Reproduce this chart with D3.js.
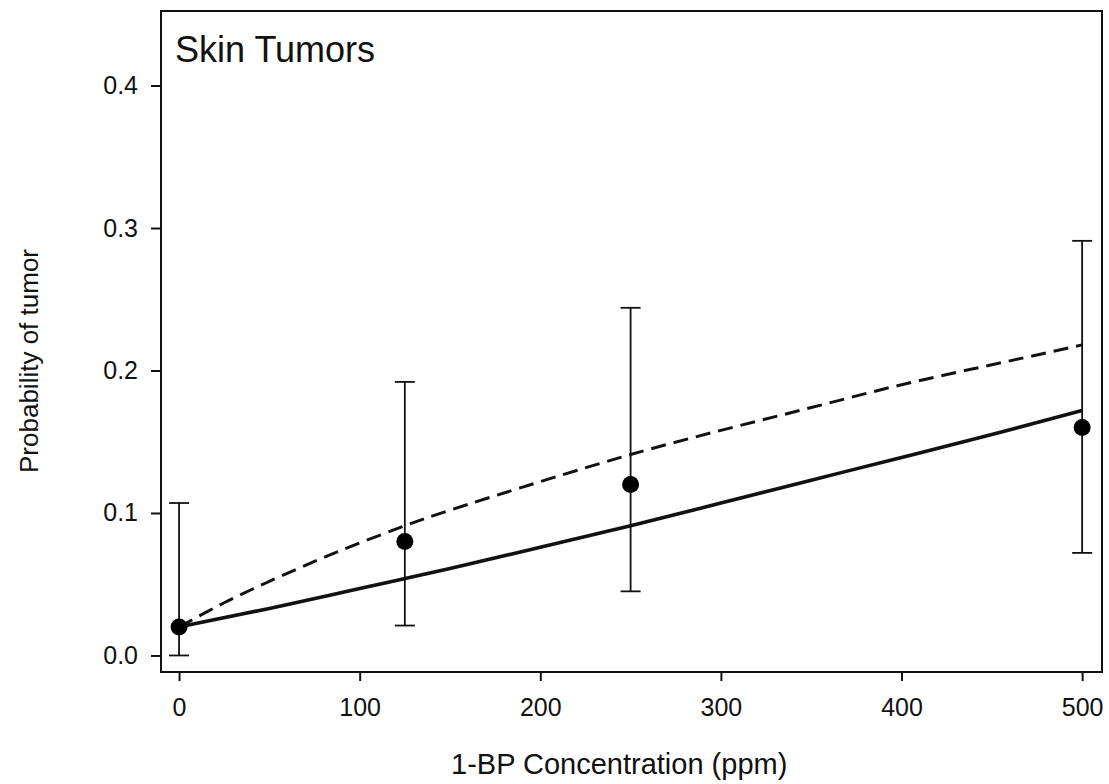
<!DOCTYPE html>
<html>
<head>
<meta charset="utf-8">
<script src="https://cdn.jsdelivr.net/npm/d3@7"></script>
<style>
  html, body { margin: 0; padding: 0; background: #fff; }
  svg { display: block; font-family: "Liberation Sans", Arial, sans-serif; }
</style>
</head>
<body>
<svg id="chart" width="1109" height="784"></svg>
<script>
// ---- data ----
const doses = [0, 125, 250, 500];
const observed = [0.020, 0.080, 0.120, 0.160];
const ciLower = [0.000, 0.021, 0.045, 0.072];
const ciUpper = [0.107, 0.192, 0.244, 0.291];

const solidX = [0, 50, 100, 150, 200, 250, 300, 350, 400, 450, 500];
const solidY = [0.020, 0.033, 0.047, 0.061, 0.076, 0.091, 0.107, 0.123, 0.139, 0.155, 0.172];

const dashedX = [0, 25, 50, 75, 100, 125, 150, 200, 250, 300, 350, 400, 450, 500];
const dashedY = [0.020, 0.037, 0.052, 0.066, 0.079, 0.091, 0.102, 0.122, 0.141, 0.158, 0.174, 0.190, 0.204, 0.218];

const xTicks = [0, 100, 200, 300, 400, 500];
const yTicks = [0.0, 0.1, 0.2, 0.3, 0.4];

const panelTitle = "Skin Tumors";
const xTitle = "1-BP Concentration (ppm)";
const yTitle = "Probability of tumor";

// ---- layout ----
const svg = d3.select("#chart");
const L = 161, R = 1102, T = 11, B = 672;

const x = d3.scaleLinear().domain([-10, 511]).range([L, R]);
const y = d3.scaleLinear().domain([-0.0116, 0.4523]).range([B, T]);

// frame
svg.append("rect")
  .attr("x", L).attr("y", T).attr("width", R - L).attr("height", B - T)
  .attr("fill", "none").attr("stroke", "#111").attr("stroke-width", 2);

// x axis
const xAxis = svg.append("g").attr("transform", `translate(0,${B})`)
  .call(d3.axisBottom(x).tickValues(xTicks).tickFormat(d3.format("d")).tickSize(9).tickPadding(17));
xAxis.select(".domain").remove();
xAxis.selectAll("line").attr("stroke", "#111").attr("stroke-width", 2);
xAxis.selectAll("text").attr("font-size", 25).attr("fill", "#111")
  .attr("font-family", "Liberation Sans, Arial, sans-serif");

// y axis
const yAxis = svg.append("g").attr("transform", `translate(${L},0)`)
  .call(d3.axisLeft(y).tickValues(yTicks).tickFormat(d3.format(".1f")).tickSize(10).tickPadding(13));
yAxis.select(".domain").remove();
yAxis.selectAll("line").attr("stroke", "#111").attr("stroke-width", 2);
yAxis.selectAll("text").attr("font-size", 25).attr("fill", "#111")
  .attr("font-family", "Liberation Sans, Arial, sans-serif");

// titles
svg.append("text").attr("x", 175).attr("y", 62)
  .attr("font-size", 36).attr("fill", "#111").text(panelTitle);

svg.append("text").attr("x", 451).attr("y", 774)
  .attr("font-size", 29).attr("fill", "#111").text(xTitle);

svg.append("text").attr("transform", "translate(38,361) rotate(-90)")
  .attr("text-anchor", "middle").attr("font-size", 26).attr("fill", "#111").text(yTitle);

// curves
const line = d3.line().x(d => x(d[0])).y(d => y(d[1])).curve(d3.curveNatural);

svg.append("path")
  .datum(dashedX.map((v, i) => [v, dashedY[i]]))
  .attr("d", line).attr("fill", "none").attr("stroke", "#111")
  .attr("stroke-width", 3).attr("stroke-dasharray", "15,8");

svg.append("path")
  .datum(solidX.map((v, i) => [v, solidY[i]]))
  .attr("d", line).attr("fill", "none").attr("stroke", "#111")
  .attr("stroke-width", 3.6);

// error bars
const eb = svg.append("g").attr("stroke", "#111").attr("stroke-width", 1.8);
doses.forEach((d, i) => {
  eb.append("line").attr("x1", x(d)).attr("x2", x(d)).attr("y1", y(ciLower[i])).attr("y2", y(ciUpper[i]));
  eb.append("line").attr("x1", x(d) - 10).attr("x2", x(d) + 10).attr("y1", y(ciLower[i])).attr("y2", y(ciLower[i]));
  eb.append("line").attr("x1", x(d) - 10).attr("x2", x(d) + 10).attr("y1", y(ciUpper[i])).attr("y2", y(ciUpper[i]));
});

// points
svg.append("g").selectAll("circle").data(doses).join("circle")
  .attr("cx", d => x(d)).attr("cy", (d, i) => y(observed[i]))
  .attr("r", 8.5).attr("fill", "#000");
</script>
</body>
</html>
